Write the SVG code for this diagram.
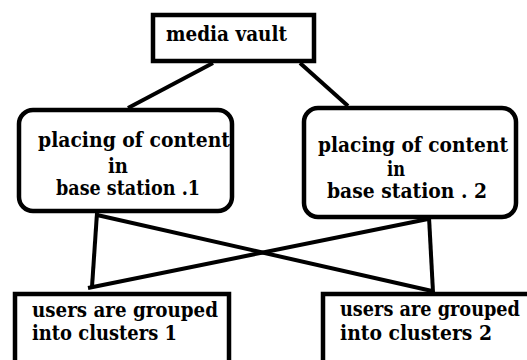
<svg xmlns="http://www.w3.org/2000/svg" width="527" height="360" viewBox="0 0 527 360">
<style>
.box{fill:#fff;stroke:#000;stroke-width:4.5}
.t{font-family:'DejaVu Serif','Liberation Serif',serif;font-weight:700;font-size:20px;fill:#000}
.c{stroke:#000;stroke-width:4;fill:none;stroke-linecap:butt}
</style>
<rect width="527" height="360" fill="#fff"/>
<g id="connectors">
<line class="c" x1="213" y1="63" x2="128" y2="108"/>
<line class="c" x1="300" y1="63" x2="348" y2="106"/>
<line class="c" x1="97" y1="213" x2="92" y2="287"/>
<line class="c" x1="97" y1="215" x2="432" y2="291"/>
<line class="c" x1="429" y1="217" x2="433" y2="292"/>
<line class="c" x1="428" y1="219" x2="88" y2="288"/>
</g>
<g id="media-vault">
<rect class="box" x="153" y="15" width="161" height="46"/>
<text class="t" x="166" y="41" textLength="121" lengthAdjust="spacingAndGlyphs">media vault</text>
</g>
<g id="base-station-1">
<rect class="box" x="19" y="110" width="213" height="101" rx="14"/>
<text class="t" x="38" y="147" textLength="192" lengthAdjust="spacingAndGlyphs">placing of content</text>
<text class="t" x="108" y="173" textLength="20" lengthAdjust="spacingAndGlyphs">in</text>
<text class="t" x="56" y="195" textLength="144" lengthAdjust="spacingAndGlyphs">base station .1</text>
</g>
<g id="base-station-2">
<rect class="box" x="304" y="108" width="212" height="109" rx="14"/>
<text class="t" x="318" y="152" textLength="190" lengthAdjust="spacingAndGlyphs">placing of content</text>
<text class="t" x="387" y="176" textLength="18" lengthAdjust="spacingAndGlyphs">in</text>
<text class="t" x="327" y="198" textLength="160" lengthAdjust="spacingAndGlyphs">base station . 2</text>
</g>
<g id="clusters-1">
<rect class="box" x="15" y="294" width="214" height="80"/>
<text class="t" x="32" y="317" textLength="186" lengthAdjust="spacingAndGlyphs">users are grouped</text>
<text class="t" x="32" y="340" textLength="145" lengthAdjust="spacingAndGlyphs">into clusters 1</text>
</g>
<g id="clusters-2">
<rect class="box" x="323" y="294" width="220" height="80"/>
<text class="t" x="340" y="316" textLength="180" lengthAdjust="spacingAndGlyphs">users are grouped</text>
<text class="t" x="340" y="340" textLength="152" lengthAdjust="spacingAndGlyphs">into clusters  2</text>
</g>
</svg>
